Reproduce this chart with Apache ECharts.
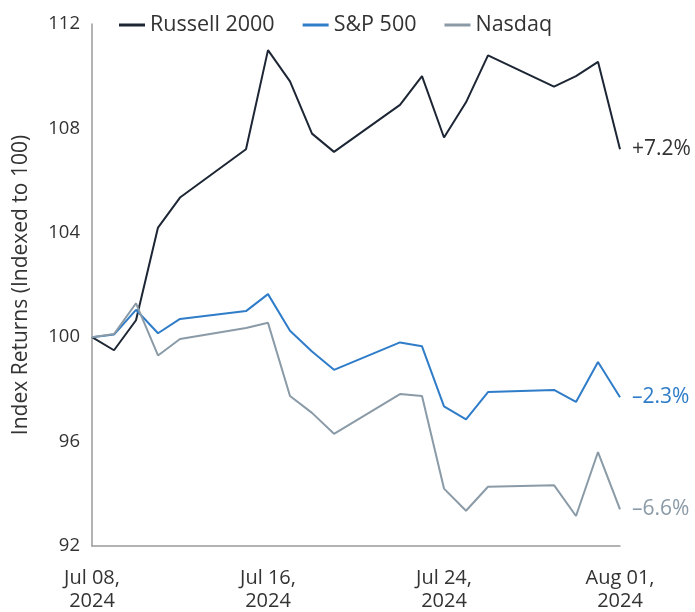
<!DOCTYPE html>
<html><head><meta charset="utf-8">
<script src="https://cdn.jsdelivr.net/npm/echarts@6/dist/echarts.min.js"></script>
<style>html,body{margin:0;padding:0;background:#fff}#c{width:695px;height:612px}</style>
</head><body><div id="c"></div>
<script>
const dates = ['2024-07-08','2024-07-09','2024-07-10','2024-07-11','2024-07-12','2024-07-15','2024-07-16','2024-07-17','2024-07-18','2024-07-19','2024-07-22','2024-07-23','2024-07-24','2024-07-25','2024-07-26','2024-07-29','2024-07-30','2024-07-31','2024-08-01'];
const russell = [100, 99.5, 100.65, 104.2, 105.35, 107.2, 111.0, 109.8, 107.8, 107.1, 108.9, 110.0, 107.65, 109.0, 110.8, 109.6, 110.0, 110.55, 107.2];
const sp500 = [100, 100.1, 101.05, 100.15, 100.7, 101.0, 101.65, 100.25, 99.45, 98.75, 99.8, 99.65, 97.35, 96.85, 97.9, 97.98, 97.52, 99.05, 97.7];
const nasdaq = [100, 100.12, 101.3, 99.3, 99.93, 100.35, 100.55, 97.75, 97.1, 96.3, 97.82, 97.75, 94.2, 93.35, 94.27, 94.33, 93.15, 95.6, 93.4];
const endLabels = ['+7.2%', '–2.3%', '–6.6%'];
const seriesNames = ['Russell 2000', 'S&P 500', 'Nasdaq'];
const colors = ['#1d2634', '#2f7cc8', '#8a9ba7'];
const labelColors = ['#333333', '#2f7cc8', '#8a9ba7'];
const yTicks = [92, 96, 100, 104, 108, 112];

const DAY = 86400000;
const ts = dates.map(d => Date.parse(d + 'T00:00:00Z'));
const months = ['Jan','Feb','Mar','Apr','May','Jun','Jul','Aug','Sep','Oct','Nov','Dec'];
function fmt(v){const d=new Date(v);return months[d.getUTCMonth()]+' '+String(d.getUTCDate()).padStart(2,'0')+',\n'+d.getUTCFullYear();}

const all=[russell,sp500,nasdaq];
const font='Open Sans';
const chart = echarts.init(document.getElementById('c'));
chart.setOption({
  animation:false,
  textStyle:{fontFamily:font},
  legend:{top:9,left:114,itemWidth:26,itemHeight:3,itemGap:28,icon:'rect',
    textStyle:{fontSize:21.5,color:'#333',fontFamily:font},data:seriesNames},
  grid:{left:92,right:75,top:24,bottom:66,containLabel:false,outerBoundsMode:'none'},
  xAxis:{type:'value',min:ts[0],max:ts[ts.length-1],interval:8*DAY,
    axisLine:{show:true,lineStyle:{color:'#9a9a9a',width:1.5}},axisTick:{show:false},splitLine:{show:false},
    axisLabel:{formatter:fmt,fontSize:20,color:'#333',margin:21,lineHeight:23,fontFamily:font}},
  yAxis:{type:'value',min:yTicks[0],max:yTicks[yTicks.length-1],interval:4,
    name:'Index Returns (Indexed to 100)',nameLocation:'middle',nameGap:60,
    nameTextStyle:{fontSize:21,color:'#333',fontFamily:font},
    axisLine:{show:true,lineStyle:{color:'#9a9a9a',width:1.5}},axisTick:{show:false},splitLine:{show:false},
    axisLabel:{fontSize:18.5,color:'#333',margin:12,fontFamily:font}},
  series: all.map((arr,i)=>({
    name:seriesNames[i],type:'line',symbol:'none',
    data:arr.map((v,j)=>[ts[j],v]),
    lineStyle:{color:colors[i],width:2},itemStyle:{color:colors[i]},
    endLabel:{show:true,formatter:endLabels[i],color:labelColors[i],fontSize:21,distance:12,fontFamily:font}
  }))
});
</script></body></html>
